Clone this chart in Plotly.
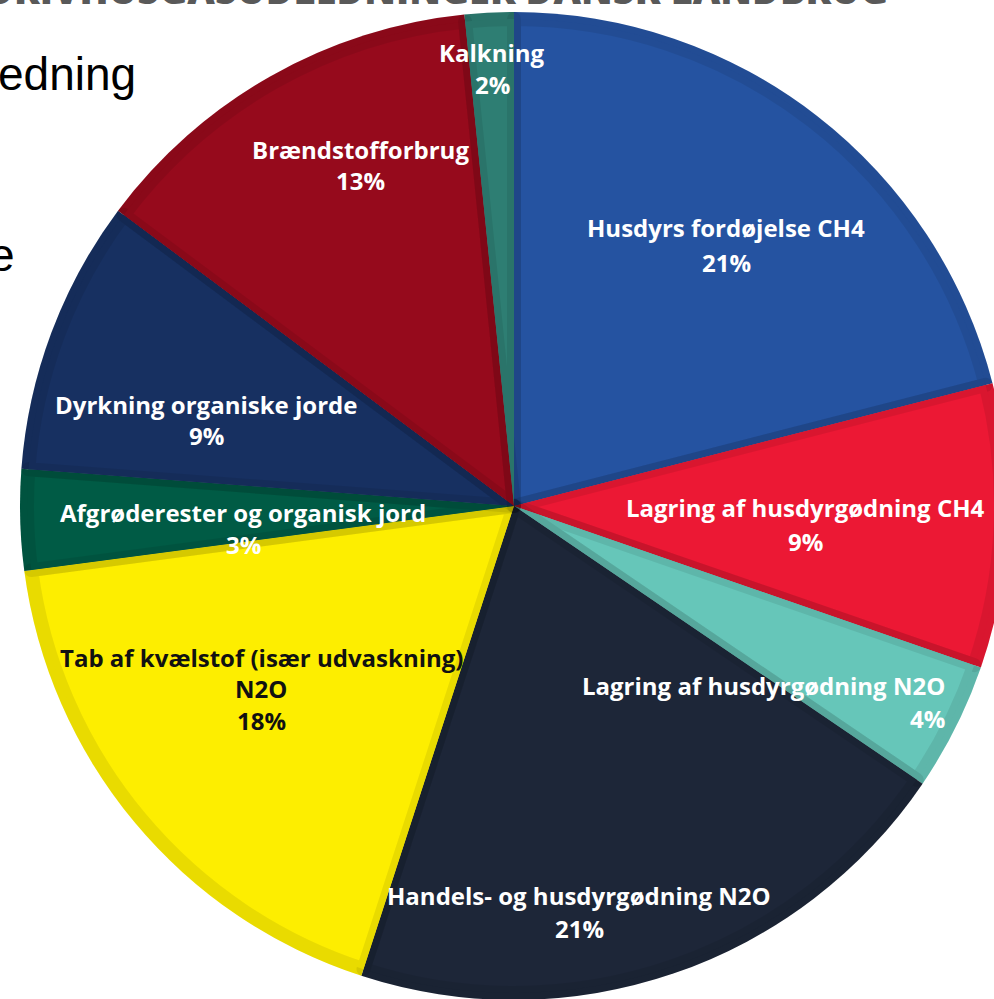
import plotly.graph_objects as go

# ---------------- data ----------------
labels = [
    "Husdyrs fordøjelse CH4",
    "Lagring af husdyrgødning CH4",
    "Lagring af husdyrgødning N2O",
    "Handels- og husdyrgødning N2O",
    "Tab af kvælstof (især udvaskning) N2O",
    "Afgrøderester og organisk jord",
    "Dyrkning organiske jorde",
    "Brændstofforbrug",
    "Kalkning",
]
values = [21.0, 9.3, 4.2, 20.5, 17.9, 3.3, 9.0, 13.2, 1.6]
label_lines = [
    ["Husdyrs fordøjelse CH4"],
    ["Lagring af husdyrgødning CH4"],
    ["Lagring af husdyrgødning N2O"],
    ["Handels- og husdyrgødning N2O"],
    ["Tab af kvælstof (især udvaskning)", "N2O"],
    ["Afgrøderester og organisk jord"],
    ["Dyrkning organiske jorde"],
    ["Brændstofforbrug"],
    ["Kalkning"],
]
colors = ["#2553A1", "#EC1834", "#66C6B9", "#1D2638", "#FDEE00",
          "#005B45", "#173061", "#960A1C", "#2E7E73"]
text_colors = ["white", "white", "white", "white", "#111111",
               "white", "white", "white", "white"]

# ---------------- layout geometry (pixels) ----------------
W, H = 1040, 1010
CX, CY, R = 514, 506, 494
BW = 14  # inset border width


def px(x):
    return x / W


def py(y):
    return 1 - y / H


def dom(r):
    return dict(x=[px(CX - r), px(CX + r)], y=[py(CY + r), py(CY - r)])


common = dict(
    labels=labels, values=values, sort=False, direction="clockwise",
    rotation=0, textinfo="none", hoverinfo="skip", showlegend=False,
)

fig = go.Figure()
fig.add_trace(go.Pie(domain=dom(R), marker=dict(colors=colors, line=dict(width=0)), **common))
fig.add_trace(go.Pie(domain=dom(R - BW / 2),
                     marker=dict(colors=colors, line=dict(width=BW, color="rgba(0,0,0,0.08)")),
                     **common))

# label placement: (x, first line y, line step, anchor)
label_pos = [
    (726, 228, 34, "center"),
    (805, 507, 34, "center"),
    (947, 685, 33, "right"),
    (579, 895, 33, "center"),
    (261, 657, 31.5, "center"),
    (243, 512, 32, "center"),
    (206, 404, 32, "center"),
    (360, 149, 32, "center"),
    (492, 52, 33, "center"),
]

total = sum(values)
annotations = []
for lines, v, (x, y0, step, anc), tc in zip(label_lines, values, label_pos, text_colors):
    pct = "%d%%" % int(v / total * 100 + 0.5)
    for i, t in enumerate(lines + [pct]):
        annotations.append(dict(
            x=px(x), y=py(y0 + i * step), xref="paper", yref="paper",
            text=t, showarrow=False, xanchor=anc, yanchor="middle",
            font=dict(family="Open Sans", size=24, color=tc, weight=700),
        ))

# cut-off slide texts around the chart
annotations.append(dict(
    x=px(890), y=py(-11), xref="paper", yref="paper",
    text="FORDELING AF DRIVHUSGASUDLEDNINGER DANSK LANDBRUG",
    showarrow=False, xanchor="right", yanchor="middle",
    font=dict(family="Open Sans", size=38, color="#595959", weight=800),
))
annotations.append(dict(
    x=px(138), y=py(74), xref="paper", yref="paper", text="Udledning",
    showarrow=False, xanchor="right", yanchor="middle",
    font=dict(family="Liberation Sans", size=46, color="#000000"),
))
annotations.append(dict(
    x=px(17), y=py(255), xref="paper", yref="paper", text="kilde",
    showarrow=False, xanchor="right", yanchor="middle",
    font=dict(family="Liberation Sans", size=46, color="#000000"),
))

fig.update_layout(
    width=W, height=H, autosize=False,
    margin=dict(l=0, r=0, t=0, b=0),
    paper_bgcolor="white", plot_bgcolor="white",
    annotations=annotations,
)

fig.write_html(
    "out.html",
    config={"displayModeBar": False},
    post_script="document.documentElement.style.overflow='hidden';document.body.style.overflow='hidden';document.body.style.margin='0';",
)
